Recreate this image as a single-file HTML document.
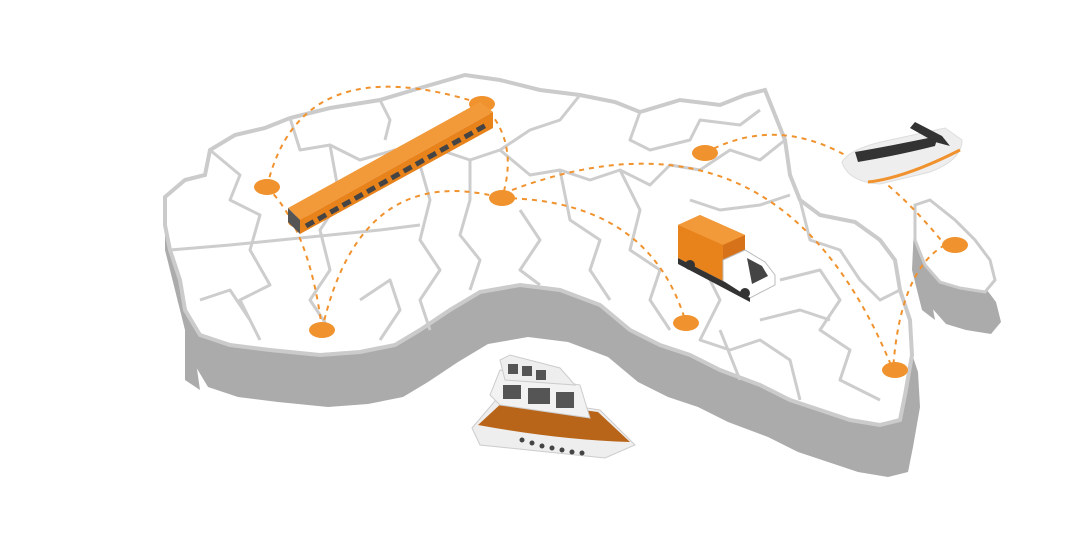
<!DOCTYPE html>
<html><head><style>html,body{margin:0;padding:0;background:#fff;}svg{display:block}</style></head>
<body>
<svg width="1080" height="541" viewBox="0 0 1080 541" xmlns="http://www.w3.org/2000/svg">
<defs>
<path id="top" d="M165,197 L185,180 L205,175 L210,150 L235,135 L265,128 L290,118 L330,108 L380,100 L420,88 L465,75 L500,80 L540,90 L580,95 L615,102 L640,112 L680,100 L720,105 L745,95 L765,90 L775,115 L785,140 L790,175 L800,200 L820,215 L855,222 L880,240 L895,260 L900,290 L910,320 L912,355 L905,395 L900,420 L880,425 L850,420 L820,410 L790,400 L760,385 L720,370 L690,355 L660,345 L630,330 L600,305 L560,290 L520,285 L480,292 L450,310 L420,330 L395,345 L360,352 L320,355 L270,350 L230,345 L200,335 L185,310 L180,280 L170,250 L165,225 Z"/>
<path id="mad" d="M915,205 L930,200 L955,220 L975,240 L990,260 L995,280 L985,292 L960,288 L940,282 L925,265 L915,240 Z"/>
</defs>
<!-- sides -->
<use href="#top" transform="translate(8,52)" fill="#ababab"/>
<path d="M165,197 L165,250 L185,330 L185,380 L200,390 L190,320 L170,230 Z" fill="#ababab"/>
<use href="#mad" transform="translate(6,42)" fill="#ababab"/>
<path d="M915,205 L912,270 L922,310 L935,320 L925,265 L915,240Z" fill="#ababab"/>
<path d="M765,90 L770,130 L775,200 L785,140 L775,115Z" fill="#bdbdbd"/>
<!-- top -->
<use href="#top" fill="#fff" stroke="#cbcbcb" stroke-width="4"/>
<use href="#mad" fill="#fff" stroke="#cbcbcb" stroke-width="3"/>
<!-- inner borders -->
<g fill="none" stroke="#cdcdcd" stroke-width="3" stroke-linejoin="round">
<path d="M210,150 L240,175 L230,200 L260,215 L250,250 L270,285 L240,300 L260,340"/>
<path d="M170,250 L230,245 L280,240 L330,235 L380,230 L420,225"/>
<path d="M290,118 L300,150 L330,145 L360,160 L395,150 L420,165 L440,150 L470,160 L500,150 L530,130 L560,120 L580,95"/>
<path d="M380,100 L390,120 L385,140"/>
<path d="M330,145 L340,200 L320,230 L330,270 L310,300 L330,330"/>
<path d="M420,165 L430,200 L420,240 L440,270 L420,300 L430,330"/>
<path d="M470,160 L470,200 L460,235 L480,260 L470,290"/>
<path d="M500,150 L530,175 L560,170 L590,180 L620,170 L650,185 L670,165 L700,170 L730,150 L760,160 L785,140"/>
<path d="M640,112 L630,140 L650,150 L690,140 L700,120 L740,125 L760,110"/>
<path d="M520,210 L540,240 L520,270 L540,285"/>
<path d="M560,170 L570,220 L600,240 L590,270 L610,300"/>
<path d="M620,170 L640,210 L630,250 L660,270 L650,300 L670,330"/>
<path d="M690,200 L720,210 L760,205 L790,195"/>
<path d="M700,260 L720,300 L700,340 L730,350 L760,340 L790,360 L800,400"/>
<path d="M780,280 L820,270 L840,300 L820,330 L850,350 L840,380 L880,400"/>
<path d="M800,200 L810,240 L840,250 L860,280 L880,300 L900,290"/>
<path d="M760,320 L800,310 L830,320"/>
<path d="M200,300 L230,290 L250,320"/>
<path d="M360,300 L390,280 L400,310 L380,340"/>
<path d="M720,330 L740,380"/>
</g>
<!-- arcs -->
<g fill="none" stroke="#f0922e" stroke-width="2" stroke-dasharray="5 5">
<path d="M267,187 Q300,45 482,104"/>
<path d="M482,104 Q520,140 502,198"/>
<path d="M267,187 Q310,230 322,330"/>
<path d="M322,330 Q360,160 502,198"/>
<path d="M502,198 Q650,200 686,323"/>
<path d="M512,190 Q780,90 893,370"/>
<path d="M705,153 Q820,90 945,245"/>
<path d="M945,245 Q900,270 893,370"/>
</g>
<g fill="#f0922e">
<ellipse cx="267" cy="187" rx="13" ry="8"/>
<ellipse cx="482" cy="104" rx="13" ry="8"/>
<ellipse cx="502" cy="198" rx="13" ry="8"/>
<ellipse cx="705" cy="153" rx="13" ry="8"/>
<ellipse cx="322" cy="330" rx="13" ry="8"/>
<ellipse cx="686" cy="323" rx="13" ry="8"/>
<ellipse cx="895" cy="370" rx="13" ry="8"/>
<ellipse cx="955" cy="245" rx="13" ry="8"/>
</g>
<!-- train -->
<ellipse cx="300" cy="222" rx="12" ry="6" fill="#f0922e"/>
<path d="M288,208 L480,102 L493,112 L300,220 Z" fill="#f29a3a"/>
<path d="M300,220 L493,112 L493,128 L300,234 Z" fill="#e8821a"/>
<g stroke="#444" stroke-width="5" stroke-dasharray="9 5"><path d="M306,226 L488,124"/></g>
<path d="M288,208 L300,220 L300,234 L288,222 Z" fill="#555"/>
<!-- truck -->
<path d="M678,225 L700,215 L745,235 L745,270 L725,282 L678,258 Z" fill="#e8821a"/>
<path d="M678,225 L700,215 L745,235 L723,245 Z" fill="#f29a3a"/>
<path d="M723,245 L745,235 L745,270 L723,282 Z" fill="#d6731a"/>
<path d="M723,260 L745,250 L765,262 L775,275 L775,285 L750,298 L723,285 Z" fill="#fff" stroke="#bbb"/>
<path d="M747,258 L762,266 L768,276 L752,284 Z" fill="#444"/>
<path d="M678,258 L725,282 L750,298 L750,302 L678,264Z" fill="#333"/>
<circle cx="690" cy="265" r="5" fill="#333"/><circle cx="745" cy="293" r="5" fill="#333"/>
<!-- plane -->
<path d="M842,162 Q850,148 890,140 L945,128 L962,140 Q962,160 930,172 L880,184 Q848,182 842,162 Z" fill="#eee" stroke="#ddd"/>
<path d="M855,152 Q890,146 938,136 L935,146 Q895,156 858,162 Z" fill="#333"/>
<path d="M915,122 L942,136 L950,146 L935,142 L910,128 Z" fill="#333"/>
<path d="M868,182 Q905,178 960,150" stroke="#f0922e" stroke-width="3" fill="none"/>
<!-- ship -->
<path d="M472,428 L500,395 L600,410 L635,445 L605,458 L480,445 Z" fill="#eee" stroke="#ccc"/>
<path d="M478,425 L505,400 L598,412 L630,442 Q560,440 478,425 Z" fill="#b8651a"/>
<path d="M490,395 L500,370 L580,385 L590,418 L500,405 Z" fill="#f2f2f2" stroke="#ccc"/>
<path d="M500,360 L510,355 L560,368 L575,385 L505,380 Z" fill="#eee" stroke="#ccc"/>
<g fill="#555">
<rect x="503" y="385" width="18" height="14"/><rect x="528" y="388" width="22" height="16"/><rect x="556" y="392" width="18" height="16"/>
<rect x="508" y="364" width="10" height="10"/><rect x="522" y="366" width="10" height="10"/><rect x="536" y="370" width="10" height="10"/>
</g>
<g fill="#444">
<circle cx="522" cy="440" r="2.5"/><circle cx="532" cy="443" r="2.5"/><circle cx="542" cy="446" r="2.5"/><circle cx="552" cy="448" r="2.5"/><circle cx="562" cy="450" r="2.5"/><circle cx="572" cy="452" r="2.5"/><circle cx="582" cy="453" r="2.5"/>
</g>
</svg>
</body></html>
